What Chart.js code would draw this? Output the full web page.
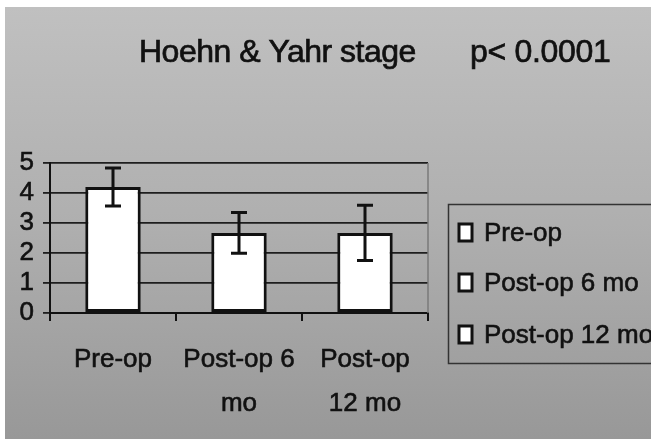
<!DOCTYPE html>
<html><head><meta charset="utf-8">
<script src="https://cdn.jsdelivr.net/npm/chart.js@4.4.1/dist/chart.umd.min.js"></script>
<style>html,body{margin:0;padding:0;background:#fff;overflow:hidden}canvas{display:block}</style>
</head><body>
<canvas id="c" width="651" height="439"></canvas>
<script>
const categories = [['Pre-op'], ['Post-op 6', 'mo'], ['Post-op', '12 mo']];
const legendLabels = ['Pre-op', 'Post-op 6 mo', 'Post-op 12 mo'];
const meanValues = [4.2, 2.67, 2.67];
const errorValues = [0.63, 0.68, 0.92];
const yTicks = [0, 1, 2, 3, 4, 5];
const titleText = 'Hoehn & Yahr stage';
const pValueText = 'p< 0.0001';

const FONT = "'Liberation Sans', Arial, sans-serif";
const INK = '#111111';

const backgroundPlugin = {
  id: 'bg',
  beforeDraw(chart) {
    const ctx = chart.ctx;
    ctx.save();
    ctx.fillStyle = '#ffffff';
    ctx.fillRect(0, 0, chart.width, chart.height);
    const g = ctx.createLinearGradient(0, 7, 0, chart.height);
    g.addColorStop(0, '#c0c0c0');
    g.addColorStop(0.5, '#afafaf');
    g.addColorStop(1, '#989898');
    ctx.fillStyle = g;
    ctx.fillRect(5, 7, chart.width - 5, chart.height - 7);
    ctx.restore();
  }
};

const errorBarPlugin = {
  id: 'errbars',
  afterDatasetsDraw(chart) {
    const ctx = chart.ctx;
    const y = chart.scales.y;
    const meta = chart.getDatasetMeta(0);
    ctx.save();
    ctx.strokeStyle = INK;
    ctx.lineWidth = 3;
    meta.data.forEach((bar, i) => {
      const m = meanValues[i], e = errorValues[i];
      const top = y.getPixelForValue(m + e);
      const bot = y.getPixelForValue(m - e);
      const x = bar.x;
      ctx.beginPath();
      ctx.moveTo(x, top); ctx.lineTo(x, bot);
      ctx.moveTo(x - 8, top); ctx.lineTo(x + 8, top);
      ctx.moveTo(x - 8, bot); ctx.lineTo(x + 8, bot);
      ctx.stroke();
    });
    ctx.restore();
  }
};

function heavyText(ctx, text, x, y) {
  ctx.fillText(text, x, y);
  ctx.strokeText(text, x, y);
}

const decorPlugin = {
  id: 'decor',
  afterDraw(chart) {
    const ctx = chart.ctx;
    const a = chart.chartArea;
    ctx.save();
    // plot area right border
    ctx.strokeStyle = '#7a7a7a';
    ctx.lineWidth = 1.5;
    ctx.beginPath();
    ctx.moveTo(a.right, a.top); ctx.lineTo(a.right, a.bottom);
    ctx.stroke();

    // title and p-value
    ctx.fillStyle = INK;
    ctx.strokeStyle = INK;
    ctx.lineWidth = 0.7;
    ctx.textBaseline = 'alphabetic';
    ctx.textAlign = 'left';
    ctx.font = '32px ' + FONT;
    try { ctx.letterSpacing = '-0.5px'; } catch (e) {}
    heavyText(ctx, titleText, 139, 62);
    try { ctx.letterSpacing = '-0.3px'; } catch (e) {}
    heavyText(ctx, pValueText, 470, 62);
    try { ctx.letterSpacing = '0px'; } catch (e) {}

    // legend box
    ctx.strokeStyle = '#333';
    ctx.lineWidth = 1.5;
    ctx.strokeRect(448.5, 204.5, 230, 159);
    const ds = chart.data.datasets[0];
    const rows = [233, 283, 335];
    ctx.font = '26px ' + FONT;
    ctx.textBaseline = 'middle';
    legendLabels.forEach((lab, i) => {
      const cy = rows[i];
      ctx.fillStyle = ds.backgroundColor;
      ctx.fillRect(459, cy - 9, 13, 17);
      ctx.strokeStyle = ds.borderColor;
      ctx.lineWidth = 3;
      ctx.strokeRect(459, cy - 9, 13, 17);
      ctx.fillStyle = INK;
      ctx.strokeStyle = INK;
      ctx.lineWidth = 0.6;
      heavyText(ctx, lab, 484, cy + 1);
    });
    ctx.restore();
  }
};

new Chart(document.getElementById('c'), {
  type: 'bar',
  data: {
    labels: categories,
    datasets: [{
      data: meanValues,
      backgroundColor: '#ffffff',
      borderColor: INK,
      borderWidth: 3,
      borderSkipped: false,
      barPercentage: 0.44,
      categoryPercentage: 1.0
    }]
  },
  options: {
    responsive: false,
    animation: false,
    devicePixelRatio: 1,
    layout: { padding: { top: 163, right: 223, left: 0, bottom: 0 } },
    plugins: { legend: { display: false }, title: { display: false }, tooltip: { enabled: false } },
    scales: {
      x: {
        offset: true,
        grid: { offset: true, drawOnChartArea: false, drawTicks: true, tickLength: 8, color: INK, lineWidth: 2 },
        border: { color: INK, width: 2 },
        ticks: { color: INK, textStrokeColor: INK, textStrokeWidth: 0.6, padding: 17, font: { family: FONT, size: 26, lineHeight: 1.7 }, maxRotation: 0, autoSkip: false },
        afterFit(s) { s.height = 126; }
      },
      y: {
        min: 0, max: 5,
        afterBuildTicks(s) { s.ticks = yTicks.map(v => ({ value: v })); },
        grid: { color: '#1e1e1e', lineWidth: 1.8, tickLength: 7, drawTicks: true },
        border: { color: INK, width: 2 },
        ticks: { color: INK, textStrokeColor: INK, textStrokeWidth: 0.6, padding: 9, autoSkip: false, font: { family: FONT, size: 26 } },
        afterFit(s) { s.width = 50; }
      }
    }
  },
  plugins: [backgroundPlugin, errorBarPlugin, decorPlugin]
});
</script>
</body></html>
